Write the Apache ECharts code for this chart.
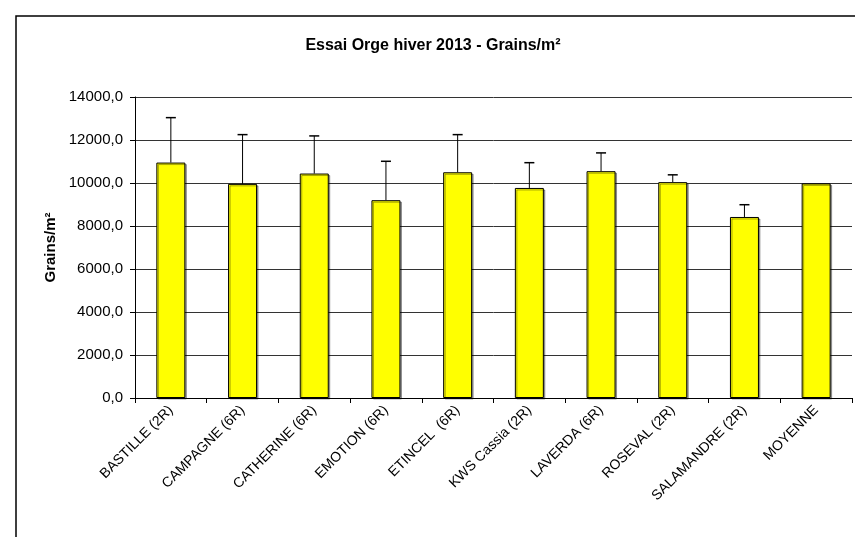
<!DOCTYPE html>
<html>
<head>
<meta charset="utf-8">
<script src="https://cdn.jsdelivr.net/npm/echarts@6/dist/echarts.min.js"></script>
<style>
html,body{margin:0;padding:0;background:#fff;}
#c{width:855px;height:537px;}
</style>
</head>
<body>
<div id="c"></div>
<script>
var categories = ['BASTILLE (2R)','CAMPAGNE (6R)','CATHERINE (6R)','EMOTION (6R)','ETINCEL  (6R)','KWS Cassia (2R)','LAVERDA (6R)','ROSEVAL (2R)','SALAMANDRE (2R)','MOYENNE'];
var values = [10950, 9960, 10440, 9200, 10500, 9770, 10550, 10040, 8420, 9981];
var errors = [2090, 2290, 1750, 1810, 1750, 1175, 850, 340, 570, 0];
var yTicks = [0, 2000, 4000, 6000, 8000, 10000, 12000, 14000];

var font = 'Liberation Sans, Arial, sans-serif';
var errData = values.map(function(v, i){ return [i, v, v + errors[i]]; });

var chart = echarts.init(document.getElementById('c'));
chart.setOption({
  animation: false,
  backgroundColor: '#fff',
  title: {
    text: 'Essai Orge hiver 2013 - Grains/m²',
    left: 428, top: 33, textAlign: 'center',
    textStyle: {fontFamily: font, fontWeight: 'bold', fontSize: 16, color: '#000'}
  },
  graphic: [{
    type: 'rect', shape: {x: 16, y: 16, width: 1000, height: 800},
    style: {fill: 'none', stroke: '#000', lineWidth: 1.5}, z: 100
  }],
  grid: {left: 135, right: 3, top: 97, bottom: 139, containLabel: false},
  xAxis: {
    type: 'category', data: categories, boundaryGap: true,
    axisLine: {lineStyle: {color: '#000', width: 1}},
    axisTick: {show: true, alignWithLabel: false, length: 5, lineStyle: {color: '#000'}},
    axisLabel: {rotate: 45, interval: 0, fontFamily: font, fontSize: 14, color: '#000', margin: 10}
  },
  yAxis: {
    type: 'value', min: yTicks[0], max: yTicks[yTicks.length-1], interval: 2000,
    name: 'Grains/m²', nameLocation: 'middle', nameGap: 76, nameRotate: 90,
    nameTextStyle: {fontFamily: font, fontWeight: 'bold', fontSize: 15, color: '#000'},
    axisLine: {show: true, lineStyle: {color: '#000', width: 1}},
    axisTick: {show: true, inside: false, length: 5, lineStyle: {color: '#000'}},
    axisLabel: {fontFamily: font, fontSize: 15, color: '#000', margin: 12,
      formatter: function(v){ return v.toFixed(1).replace('.', ','); }},
    splitLine: {show: true, lineStyle: {color: '#333', width: 1}}
  },
  series: [{
    type: 'bar', data: values, barWidth: 29,
    itemStyle: {color: '#FFFF00', borderColor: '#000', borderWidth: 1,
      shadowColor: 'rgba(0,0,0,0.35)', shadowOffsetX: 1.5, shadowOffsetY: 1.5, shadowBlur: 0}
  }, {
    type: 'custom', data: errData, z: 5,
    renderItem: function(params, api){
      var i = api.value(0);
      if (api.value(2) <= api.value(1)) return null;
      var p1 = api.coord([i, api.value(1)]);
      var p2 = api.coord([i, api.value(2)]);
      var hw = 5;
      return {type: 'group', children: [
        {type: 'line', shape: {x1: p1[0], y1: p1[1], x2: p2[0], y2: p2[1]}, style: {stroke: '#000', lineWidth: 1}},
        {type: 'line', shape: {x1: p2[0]-hw, y1: p2[1], x2: p2[0]+hw, y2: p2[1]}, style: {stroke: '#000', lineWidth: 1.5}}
      ]};
    }
  }]
});
</script>
</body>
</html>
